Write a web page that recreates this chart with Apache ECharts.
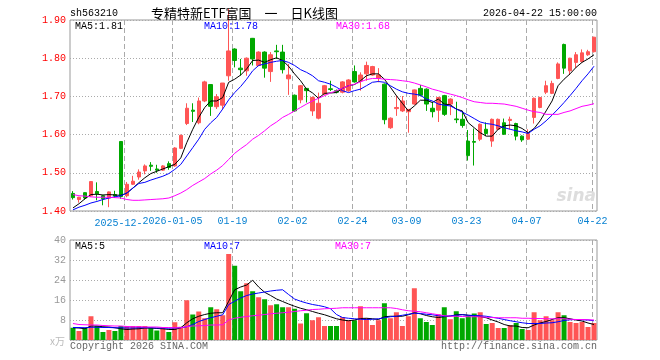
<!DOCTYPE html>
<html><head><meta charset="utf-8">
<script src="https://cdn.jsdelivr.net/npm/echarts@6/dist/echarts.min.js"></script>
<style>html,body{margin:0;padding:0;background:#fff}#c{width:660px;height:360px}</style>
</head><body><div id="c"></div>
<script>
const dates = ['2025-12-09','2025-12-10','2025-12-11','2025-12-12','2025-12-15','2025-12-16','2025-12-17','2025-12-18','2025-12-19','2025-12-22','2025-12-23','2025-12-24','2025-12-25','2025-12-26','2025-12-29','2025-12-30','2025-12-31',
'2026-01-05','2026-01-06','2026-01-07','2026-01-08','2026-01-09','2026-01-12','2026-01-13','2026-01-14','2026-01-15','2026-01-16','2026-01-19','2026-01-20','2026-01-21','2026-01-22','2026-01-23','2026-01-26','2026-01-27','2026-01-28','2026-01-29','2026-01-30',
'2026-02-02','2026-02-03','2026-02-04','2026-02-05','2026-02-06','2026-02-09','2026-02-10','2026-02-11','2026-02-12','2026-02-13','2026-02-24','2026-02-25','2026-02-26','2026-02-27',
'2026-03-02','2026-03-03','2026-03-04','2026-03-05','2026-03-06','2026-03-09','2026-03-10','2026-03-11','2026-03-12','2026-03-13','2026-03-16','2026-03-17','2026-03-18','2026-03-19','2026-03-20','2026-03-23','2026-03-24','2026-03-25','2026-03-26','2026-03-27','2026-03-30','2026-03-31',
'2026-04-01','2026-04-02','2026-04-03','2026-04-07','2026-04-08','2026-04-09','2026-04-10','2026-04-13','2026-04-14','2026-04-15','2026-04-16','2026-04-17','2026-04-20','2026-04-21','2026-04-22'];

const opens = [1.446,1.430,1.448,1.440,1.451,1.440,1.434,1.443,1.582,1.440,
1.470,1.489,1.505,1.520,1.510,1.507,1.524,1.518,1.564,1.629,
1.664,1.631,1.688,1.731,1.673,1.677,1.754,1.824,1.774,1.767,
1.852,1.781,1.816,1.765,1.819,1.816,1.746,1.703,1.691,1.721,
1.662,1.643,1.706,1.720,1.715,1.711,1.715,1.765,1.741,1.759,
1.756,1.747,1.732,1.618,1.668,1.662,1.660,1.680,1.721,1.719,
1.669,1.664,1.702,1.680,1.641,1.640,1.583,1.582,1.588,1.614,
1.583,1.614,1.631,1.637,1.629,1.596,1.588,1.645,1.671,1.711,
1.708,1.747,1.836,1.767,1.789,1.791,1.809,1.817];
const closes = [1.435,1.436,1.434,1.477,1.445,1.432,1.450,1.439,1.438,1.470,
1.478,1.502,1.518,1.517,1.507,1.518,1.514,1.565,1.598,1.669,
1.661,1.688,1.738,1.674,1.699,1.735,1.819,1.794,1.770,1.800,
1.798,1.816,1.774,1.809,1.817,1.770,1.756,1.662,1.728,1.715,
1.697,1.682,1.728,1.718,1.711,1.738,1.743,1.738,1.756,1.781,
1.778,1.756,1.639,1.643,1.671,1.688,1.666,1.717,1.703,1.680,
1.660,1.697,1.653,1.693,1.639,1.624,1.545,1.580,1.627,1.603,
1.640,1.640,1.601,1.640,1.596,1.586,1.603,1.695,1.697,1.728,
1.734,1.785,1.774,1.800,1.809,1.814,1.817,1.855];
const lows = [1.430,1.422,1.430,1.437,1.428,1.415,1.410,1.434,1.432,1.436,
1.468,1.482,1.496,1.505,1.500,1.505,1.508,1.516,1.562,1.625,
1.633,1.627,1.685,1.649,1.667,1.667,1.741,1.776,1.754,1.754,
1.781,1.779,1.749,1.738,1.798,1.760,1.704,1.660,1.682,1.684,
1.649,1.640,1.703,1.714,1.708,1.708,1.712,1.736,1.715,1.741,
1.754,1.737,1.627,1.615,1.649,1.659,1.605,1.678,1.700,1.662,
1.645,1.633,1.649,1.651,1.630,1.618,1.532,1.519,1.583,1.596,
1.568,1.612,1.599,1.614,1.585,1.581,1.586,1.629,1.669,1.706,
1.706,1.745,1.759,1.756,1.774,1.789,1.806,1.815];
const highs = [1.452,1.437,1.449,1.478,1.475,1.442,1.451,1.453,1.582,1.476,
1.492,1.509,1.522,1.528,1.521,1.520,1.530,1.567,1.600,1.682,
1.682,1.697,1.741,1.731,1.706,1.735,1.930,1.826,1.798,1.802,
1.853,1.818,1.818,1.816,1.835,1.835,1.785,1.705,1.730,1.722,
1.700,1.710,1.730,1.741,1.718,1.740,1.745,1.781,1.763,1.791,
1.780,1.774,1.734,1.645,1.703,1.701,1.667,1.718,1.730,1.721,
1.686,1.699,1.704,1.695,1.686,1.662,1.612,1.616,1.629,1.632,
1.642,1.642,1.642,1.647,1.631,1.598,1.614,1.697,1.699,1.741,
1.741,1.789,1.838,1.801,1.816,1.823,1.822,1.856];

const volumes = [4.9,3.6,4.9,9.5,5.6,3.2,4.0,3.6,5.6,5.6,
5.6,5.6,5.6,4.9,3.8,4.9,3.2,7.1,5.3,15.9,
10.2,11.4,8.7,13.1,12.3,9.9,34.4,29.7,19.5,22.7,
19.5,17.1,16.3,13.9,14.3,13.1,13.1,12.5,6.6,10.7,
7.9,9.1,5.6,5.6,5.6,9.1,7.9,7.9,13.5,8.7,
6.0,7.9,14.7,8.7,11.1,5.6,9.5,20.7,8.7,7.2,
6.0,10.3,13.1,8.3,11.5,8.7,9.7,10.6,11.1,6.4,
6.8,4.8,4.8,6.0,6.8,4.4,4.0,11.1,7.9,9.5,
7.9,11.1,9.9,7.2,6.8,7.2,5.2,6.8];

const ma5 = [1.408,1.419,1.432,1.443,1.444,1.442,1.443,1.442,1.441,1.447,
1.460,1.474,1.487,1.498,1.504,1.510,1.516,1.522,1.539,1.579,
1.614,1.645,1.671,1.688,1.688,1.697,1.737,1.745,1.756,1.772,
1.794,1.795,1.789,1.796,1.801,1.794,1.779,1.759,1.741,1.719,
1.709,1.695,1.708,1.709,1.710,1.721,1.728,1.731,1.741,1.754,
1.759,1.759,1.745,1.724,1.702,1.682,1.662,1.675,1.690,1.690,
1.684,1.693,1.680,1.678,1.667,1.662,1.631,1.618,1.605,1.596,
1.596,1.614,1.623,1.625,1.623,1.616,1.605,1.616,1.636,1.662,
1.688,1.728,1.745,1.759,1.776,1.789,1.798,1.809];
const ma10 = [1.403,1.410,1.415,1.421,1.425,1.430,1.434,1.437,1.440,1.447,
1.460,1.472,1.475,1.481,1.486,1.491,1.498,1.509,1.522,1.544,
1.566,1.588,1.614,1.631,1.645,1.667,1.691,1.710,1.726,1.745,
1.767,1.781,1.785,1.789,1.792,1.794,1.789,1.781,1.770,1.763,
1.754,1.741,1.737,1.732,1.724,1.715,1.710,1.715,1.719,1.728,
1.737,1.739,1.737,1.728,1.719,1.712,1.708,1.706,1.703,1.693,
1.688,1.680,1.677,1.675,1.667,1.659,1.651,1.642,1.633,1.629,
1.627,1.623,1.618,1.614,1.610,1.607,1.603,1.614,1.623,1.636,
1.651,1.667,1.684,1.702,1.721,1.741,1.759,1.779];
const ma30 = [1.443,1.440,1.439,1.437,1.436,1.436,1.436,1.435,1.434,1.430,
1.428,1.428,1.429,1.430,1.431,1.432,1.434,1.440,1.447,1.456,
1.467,1.476,1.485,1.497,1.507,1.519,1.535,1.551,1.563,1.574,
1.588,1.598,1.610,1.623,1.633,1.645,1.653,1.662,1.671,1.680,
1.688,1.695,1.702,1.709,1.715,1.721,1.728,1.732,1.738,1.744,
1.747,1.747,1.745,1.744,1.743,1.741,1.739,1.735,1.730,1.725,
1.719,1.715,1.710,1.706,1.702,1.697,1.691,1.686,1.684,1.682,
1.682,1.681,1.680,1.677,1.674,1.669,1.664,1.660,1.658,1.653,
1.653,1.653,1.658,1.662,1.668,1.674,1.677,1.681];

const vma5 = [4.9,4.8,4.5,5.6,5.6,5.3,5.2,4.9,4.5,4.2,
4.4,4.5,4.8,4.8,4.6,4.5,4.2,4.2,4.9,6.9,
8.5,9.5,10.2,10.7,10.9,10.9,15.5,20.1,21.2,22.0,
23.9,21.2,19.1,17.8,16.4,15.4,14.4,13.5,12.7,12.1,
11.4,10.7,10.1,9.3,8.5,8.0,7.7,8.0,8.6,8.7,
8.5,8.2,9.3,9.5,9.5,9.5,10.1,10.9,10.5,9.8,
9.3,9.0,9.3,9.5,10.1,10.2,9.9,9.7,9.4,8.9,
8.0,7.2,6.2,5.6,5.6,5.0,4.9,6.0,6.8,7.4,
8.2,8.9,8.9,8.5,8.0,7.6,6.8,6.2];
const vma10 = [5.0,5.0,4.9,5.1,5.1,5.0,5.0,4.9,4.9,4.8,
4.8,4.9,4.9,4.9,4.8,4.8,4.7,4.8,4.9,5.3,
6.2,7.4,8.2,8.9,9.5,10.1,14.2,15.5,16.8,17.8,
18.4,18.8,19.2,19.6,19.9,20.1,18.2,16.4,15.5,14.8,
14.2,13.8,13.3,12.5,10.2,9.0,8.7,8.5,8.3,8.2,
8.3,8.5,8.9,9.3,9.5,9.9,10.3,10.7,10.6,10.3,
10.1,9.7,9.5,9.7,9.9,10.1,9.9,9.8,9.7,9.5,
9.1,8.7,8.2,7.7,7.3,6.9,6.6,6.6,6.6,6.8,
6.9,7.3,7.8,8.1,8.2,8.1,8.0,7.7];
const vma30 = [6.6,6.2,6.1,6.0,6.0,5.8,5.7,5.6,5.6,5.4,
5.3,5.3,5.2,5.2,5.2,5.0,5.0,4.9,4.9,5.4,
5.6,5.7,5.8,6.0,6.0,6.1,8.0,8.7,9.1,9.4,
9.7,9.9,10.2,10.5,10.7,10.9,11.1,11.4,11.7,11.9,
12.2,12.3,12.5,12.6,12.7,12.9,12.9,12.9,12.9,12.9,
12.9,12.9,12.9,12.9,12.6,12.1,11.7,11.5,11.3,10.9,
10.5,10.1,9.7,9.5,9.5,9.4,9.3,9.3,9.3,9.1,
9.0,8.9,8.9,8.9,8.9,8.7,8.7,8.6,8.6,8.5,
8.5,8.5,8.5,8.3,8.2,8.2,8.1,8.0];

const tickIndex = [9,17,27,37,47,56,66,76,87];
const tickLabels = ['2025-12-22','2026-01-05','01-19','02-02','02-24','03-09','03-23','04-07','04-22'];

const UP = '#ff5555', DOWN = '#00a800';
const mono = '"Liberation Mono","DejaVu Sans Mono",monospace';
const isTick = (i) => tickIndex.indexOf(i) >= 0;
const labelOf = (i) => tickLabels[tickIndex.indexOf(i)] || '';

const chart = echarts.init(document.getElementById('c'), null, {renderer: 'canvas'});

function txt(x, y, text, color, align, font) {
  return {type: 'text', silent: true, z: 100,
    style: {x: x, y: y, text: text, fill: color, font: font || ('10px ' + mono),
      align: align || 'left', verticalAlign: 'middle', textAlign: align || 'left', textVerticalAlign: 'middle'}};
}

const labelStyle = {color: '#0a82d2', fontFamily: mono, fontSize: 10, backgroundColor: '#fff', hideOverlap: false};
const hiddenCat = (gi) => ({type: 'category', gridIndex: gi, data: dates, boundaryGap: true,
  axisLine: {show: false}, axisTick: {show: false}, axisLabel: {show: false}, splitLine: {show: false}});
const splitDash = {show: true, interval: (i) => isTick(i), lineStyle: {color: '#aaa', width: 1, type: [5, 3]}};

const option = {
  animation: false,
  backgroundColor: '#fff',
  grid: [
    {left: 70, top: 20, width: 527, height: 191, show: true, borderColor: '#999', borderWidth: 1, backgroundColor: 'transparent'},
    {left: 70, top: 240, width: 527, height: 100, show: true, borderColor: '#999', borderWidth: 1, backgroundColor: 'transparent'},
    {left: 70.5, top: 20, width: 522, height: 191},
    {left: 70.5, top: 240, width: 522, height: 100}
  ],
  xAxis: [
    hiddenCat(0), hiddenCat(1),
    {type: 'category', gridIndex: 2, data: dates, boundaryGap: false, z: 2,
      axisLine: {show: false}, axisTick: {show: false},
      axisLabel: Object.assign({show: true, margin: 5, interval: (i) => isTick(i) && i !== 9,
        formatter: (v, i) => labelOf(i)}, labelStyle),
      splitLine: splitDash},
    {type: 'category', gridIndex: 3, data: dates, boundaryGap: false, position: 'top', z: 1,
      axisLine: {show: false}, axisTick: {show: false},
      axisLabel: Object.assign({show: true, margin: 12, interval: (i) => i === 9,
        formatter: (v, i) => labelOf(i)}, labelStyle),
      splitLine: splitDash}
  ],
  yAxis: [
    {type: 'value', gridIndex: 0, min: 1.4, max: 1.9, interval: 0.1, axisLine: {show: false}, axisTick: {show: false},
      axisLabel: {color: '#ff0000', fontFamily: mono, fontSize: 10, margin: 4, formatter: (v) => v.toFixed(2)},
      splitLine: {show: true, lineStyle: {color: '#aaa', width: 1, type: [1, 2]}}},
    {type: 'value', gridIndex: 1, min: 0, max: 40, interval: 8, axisLine: {show: false}, axisTick: {show: false},
      axisLabel: {color: '#999', fontFamily: mono, fontSize: 10, margin: 4, formatter: (v) => v === 0 ? '' : String(v)},
      splitLine: {show: true, lineStyle: {color: '#aaa', width: 1, type: [1, 2]}}},
    {type: 'value', gridIndex: 2, min: 0, max: 1, show: false, splitLine: {show: false}},
    {type: 'value', gridIndex: 3, min: 0, max: 1, show: false, splitLine: {show: false}}
  ],
  series: [
    {type: 'candlestick', xAxisIndex: 0, yAxisIndex: 0, barWidth: 4, clip: true,
      data: dates.map((d, i) => [opens[i], closes[i], lows[i], highs[i]]),
      itemStyle: {color: UP, color0: DOWN, borderColor: UP, borderColor0: DOWN, borderWidth: 1}},
    {type: 'line', xAxisIndex: 0, yAxisIndex: 0, data: ma5, symbol: 'none', lineStyle: {color: '#000', width: 1}, z: 3},
    {type: 'line', xAxisIndex: 0, yAxisIndex: 0, data: ma10, symbol: 'none', lineStyle: {color: '#0000ff', width: 1}, z: 3},
    {type: 'line', xAxisIndex: 0, yAxisIndex: 0, data: ma30, symbol: 'none', lineStyle: {color: '#ff00ff', width: 1}, z: 3},
    {type: 'bar', xAxisIndex: 1, yAxisIndex: 1, barWidth: 5,
      data: volumes.map((v, i) => ({value: v, itemStyle: {color: closes[i] >= opens[i] ? UP : DOWN}}))},
    {type: 'line', xAxisIndex: 1, yAxisIndex: 1, data: vma5, symbol: 'none', lineStyle: {color: '#000', width: 1}, z: 3},
    {type: 'line', xAxisIndex: 1, yAxisIndex: 1, data: vma10, symbol: 'none', lineStyle: {color: '#0000ff', width: 1}, z: 3},
    {type: 'line', xAxisIndex: 1, yAxisIndex: 1, data: vma30, symbol: 'none', lineStyle: {color: '#ff00ff', width: 1}, z: 3}
  ],
  graphic: [
    txt(70, 13, 'sh563210', '#000'),
    txt(151, 13, '专精特新ETF富国　一　日K线图', '#000', 'left', '13px "Noto Sans CJK SC"'),
    txt(597, 13, '2026-04-22 15:00:00', '#000', 'right'),
    txt(75, 26, 'MA5:1.81', '#000'),
    txt(204, 26, 'MA10:1.78', '#0000ff'),
    txt(336, 26, 'MA30:1.68', '#ff00ff'),
    txt(75, 246, 'MA5:5', '#000'),
    txt(204, 246, 'MA10:7', '#0000ff'),
    txt(335, 246, 'MA30:7', '#ff00ff'),
    txt(65, 341, 'x万', '#bbb', 'right', '10px "Noto Sans CJK SC"'),
    txt(70, 346, 'Copyright 2026 SINA.COM', '#666'),
    txt(597, 346, 'http://finance.sina.com.cn', '#666', 'right'),
    txt(596, 197, 'sina', '#ddd', 'right', 'italic bold 17px "DejaVu Sans"')
  ]
};
chart.setOption(option);
</script>
</body></html>
